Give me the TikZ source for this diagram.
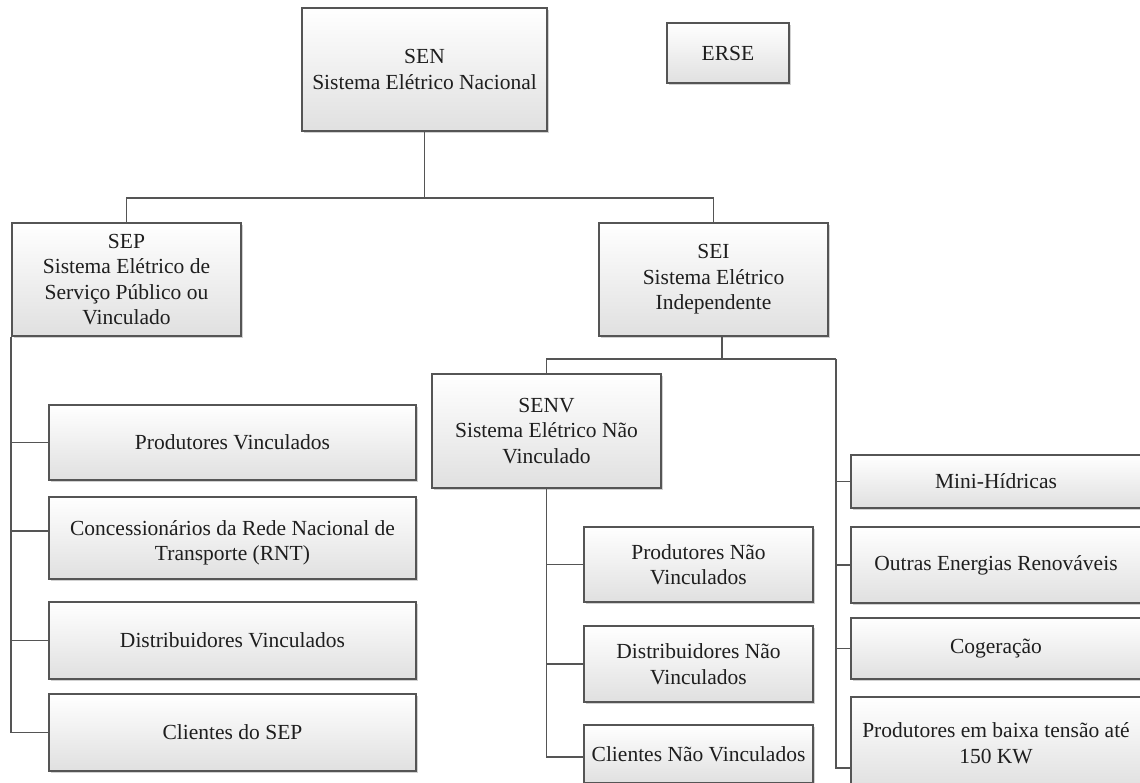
\documentclass[tikz,border=0pt]{standalone}
\usepackage{fontspec}
\setmainfont{Liberation Serif}
\usetikzlibrary{shadows}
\definecolor{edge}{HTML}{555555}
\definecolor{boxbot}{HTML}{E0E0E0}
\definecolor{ink}{HTML}{1E1E1E}
\begin{document}
\begin{tikzpicture}[x=1pt,y=-1pt,
  box/.style={rectangle, draw=edge, line width=1.4pt, top color=white, bottom color=boxbot,
    align=center, inner sep=0pt, text=ink, font=\fontsize{21.5}{25.5}\selectfont,
    drop shadow={shadow xshift=2pt, shadow yshift=-2pt, opacity=0.18, fill=black}},
  link/.style={draw=edge, line width=1.7pt}]
\useasboundingbox (0,0) rectangle (1140,782);
\clip (0,0) rectangle (1140,782);

% top level
\node[box, minimum width=245pt, minimum height=123pt] (sen) at (424.5,69.5) {SEN\\Sistema Elétrico Nacional};
\node[box, minimum width=122pt, minimum height=60pt] (erse) at (728,53) {ERSE};

% second level
\node[box, minimum width=229pt, minimum height=113pt] (sep) at (126.5,279.5) {SEP\\Sistema Elétrico de\\Serviço Público ou\\Vinculado};
\node[box, minimum width=229pt, minimum height=113pt] (sei) at (713.5,279.5) {SEI\\Sistema Elétrico\\Independente};

% public system members
\node[box, minimum width=367pt, minimum height=75pt] (pv) at (232.5,442.5) {Produtores Vinculados};
\node[box, minimum width=367pt, minimum height=82pt, text height=50.5pt] (conc) at (232.5,538) {Concessionários da Rede Nacional de\\Transporte (RNT)};
\node[box, minimum width=367pt, minimum height=77pt] (dist) at (232.5,640.5) {Distribuidores Vinculados};
\node[box, minimum width=367pt, minimum height=77pt] (cli) at (232.5,732.5) {Clientes do SEP};

% independent system
\node[box, minimum width=229pt, minimum height=114pt] (senv) at (546.5,431) {SENV\\Sistema Elétrico Não\\Vinculado};
\node[box, minimum width=229pt, minimum height=75pt] (pnv) at (698.5,564.5) {Produtores Não\\Vinculados};
\node[box, minimum width=229pt, minimum height=76pt] (dnv) at (698.5,664) {Distribuidores Não\\Vinculados};
\node[box, minimum width=229pt, minimum height=58pt] (cnv) at (698.5,754) {Clientes Não Vinculados};

\node[box, minimum width=290pt, minimum height=53pt] (mini) at (996,481.5) {Mini-Hídricas};
\node[box, minimum width=290pt, minimum height=76pt] (outr) at (996,565) {Outras Energias Renováveis};
\node[box, minimum width=290pt, minimum height=61pt] (cog) at (996,648.5) {Cogeração};
\node[box, minimum width=290pt, minimum height=92pt] (pbt) at (996,743) {Produtores em baixa tensão até\\150 KW};

% connectors
\coordinate (bus1) at (424.5,198);
\coordinate (bus2) at (836,359);
\draw[link] (sen.south) -- (bus1) -| (sep.north);
\draw[link] (bus1) -| (sei.north);

\draw[link] (sep.south west) |- (pv.west);
\draw[link] (sep.south west) |- ([yshift=7pt]conc.west);
\draw[link] (sep.south west) |- (dist.west);
\draw[link] (sep.south west) |- (cli.west);

\draw[link] ([xshift=8.5pt]sei.south) -- ([xshift=8.5pt]sei.south |- bus2);
\draw[link] (senv.north) |- (bus2);

\draw[link] (senv.south) |- (pnv.west);
\draw[link] (senv.south) |- (dnv.west);
\draw[link] (senv.south) |- ([yshift=-3pt]cnv.west);

\draw[link] (bus2) |- (mini.west);
\draw[link] (bus2) |- (outr.west);
\draw[link] (bus2) |- (cog.west);
\draw[link] (bus2) |- ([yshift=-25pt]pbt.west);
\end{tikzpicture}
\end{document}
